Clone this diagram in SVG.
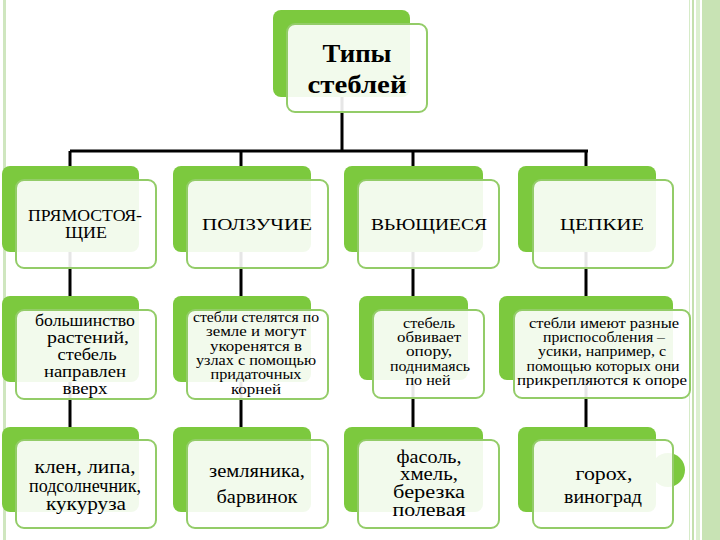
<svg xmlns="http://www.w3.org/2000/svg" width="720" height="540" viewBox="0 0 720 540">
<style>
.back{fill:#7cc93e}
.front{fill:#ffffff;fill-opacity:0.9;stroke:#93cc68;stroke-width:2}
.t{font-family:"Liberation Serif","Times New Roman",serif;fill:#000;text-anchor:middle}
.cap{font-size:17.5px}
.s1{font-size:17px}
.s2{font-size:14px}
.s3{font-size:15px}
.big{font-size:18.5px}
.title{font-size:25px;font-weight:bold}
.conn{stroke:#000;stroke-width:3;fill:none}
</style>
<rect width="720" height="540" fill="#ffffff"/>
<g id="decor">
<rect x="3" y="0" width="3" height="540" fill="#cfe6bf"/>
<rect x="689" y="0" width="1" height="540" fill="#d6ebc8"/>
<rect x="692" y="0" width="2" height="540" fill="#c4e0ae"/>
<rect x="696" y="0" width="4" height="540" fill="#dcefd0"/>
<rect x="702" y="0" width="18" height="540" fill="#c8e3b4"/>
</g>
<g id="connectors">
<path class="conn" d="M342 90V151M70 151H588M70 151V440M241 151V440M413 151V440M586 151V440"/>
</g>
<g id="root">
<rect class="back" x="273" y="10" width="137" height="87" rx="8"/>
<rect class="front" x="287" y="24" width="140" height="88" rx="8"/>
<text class="t title" x="357" y="62" textLength="69" lengthAdjust="spacingAndGlyphs">Типы</text>
<text class="t title" x="357" y="93" textLength="99" lengthAdjust="spacingAndGlyphs">стеблей</text>
</g>
<g id="n-pryam">
<rect class="back" x="2" y="166" width="137" height="86" rx="8"/>
<rect class="front" x="16" y="180" width="140" height="88" rx="8"/>
<text class="t cap" x="85" y="221" textLength="114" lengthAdjust="spacingAndGlyphs">ПРЯМОСТОЯ-</text>
<text class="t cap" x="86" y="238" textLength="42" lengthAdjust="spacingAndGlyphs">ЩИЕ</text>
</g>
<g id="n-polz">
<rect class="back" x="173" y="166" width="138" height="86" rx="8"/>
<rect class="front" x="187" y="180" width="141" height="88" rx="8"/>
<text class="t cap" x="257" y="230" textLength="110" lengthAdjust="spacingAndGlyphs">ПОЛЗУЧИЕ</text>
</g>
<g id="n-vyu">
<rect class="back" x="344" y="166" width="139" height="86" rx="8"/>
<rect class="front" x="358" y="180" width="141" height="88" rx="8"/>
<text class="t cap" x="429" y="230" textLength="116" lengthAdjust="spacingAndGlyphs">ВЬЮЩИЕСЯ</text>
</g>
<g id="n-tsep">
<rect class="back" x="518" y="166" width="138" height="86" rx="8"/>
<rect class="front" x="533" y="180" width="140" height="88" rx="8"/>
<text class="t cap" x="602" y="230" textLength="84" lengthAdjust="spacingAndGlyphs">ЦЕПКИЕ</text>
</g>
<g id="d-pryam">
<rect class="back" x="2" y="296" width="137" height="86" rx="8"/>
<rect class="front" x="16" y="310" width="140" height="89" rx="8"/>
<text class="t s1" x="85" y="326" textLength="100" lengthAdjust="spacingAndGlyphs">большинство</text>
<text class="t s1" x="88" y="343" textLength="82" lengthAdjust="spacingAndGlyphs">растений,</text>
<text class="t s1" x="87" y="360" textLength="59" lengthAdjust="spacingAndGlyphs">стебель</text>
<text class="t s1" x="85" y="377" textLength="82" lengthAdjust="spacingAndGlyphs">направлен</text>
<text class="t s1" x="85" y="394" textLength="45" lengthAdjust="spacingAndGlyphs">вверх</text>
</g>
<g id="d-polz">
<rect class="back" x="173" y="296" width="138" height="86" rx="8"/>
<rect class="front" x="187" y="310" width="141" height="89" rx="8"/>
<text class="t s2" x="256" y="322" textLength="126" lengthAdjust="spacingAndGlyphs">стебли стелятся по</text>
<text class="t s2" x="256" y="336" textLength="100" lengthAdjust="spacingAndGlyphs">земле и могут</text>
<text class="t s2" x="256" y="351" textLength="92" lengthAdjust="spacingAndGlyphs">укоренятся в</text>
<text class="t s2" x="256" y="365" textLength="120" lengthAdjust="spacingAndGlyphs">узлах с помощью</text>
<text class="t s2" x="256" y="379" textLength="91" lengthAdjust="spacingAndGlyphs">придаточных</text>
<text class="t s2" x="256" y="394" textLength="50" lengthAdjust="spacingAndGlyphs">корней</text>
</g>
<g id="d-vyu">
<rect class="back" x="359" y="296" width="109" height="84" rx="8"/>
<rect class="front" x="373" y="310" width="111" height="88" rx="8"/>
<text class="t s3" x="429" y="328" textLength="52" lengthAdjust="spacingAndGlyphs">стебель</text>
<text class="t s3" x="429" y="342" textLength="64" lengthAdjust="spacingAndGlyphs">обвивает</text>
<text class="t s3" x="429" y="356" textLength="46" lengthAdjust="spacingAndGlyphs">опору,</text>
<text class="t s3" x="430" y="371" textLength="80" lengthAdjust="spacingAndGlyphs">поднимаясь</text>
<text class="t s3" x="428" y="385" textLength="45" lengthAdjust="spacingAndGlyphs">по ней</text>
</g>
<g id="d-tsep">
<rect class="back" x="499" y="296" width="174" height="84" rx="8"/>
<rect class="front" x="514" y="310" width="176" height="88" rx="8"/>
<text class="t s3" x="604" y="328" textLength="150" lengthAdjust="spacingAndGlyphs">стебли имеют разные</text>
<text class="t s3" x="604" y="342" textLength="122" lengthAdjust="spacingAndGlyphs">приспособления –</text>
<text class="t s3" x="602" y="356" textLength="128" lengthAdjust="spacingAndGlyphs">усики, например, с</text>
<text class="t s3" x="603" y="371" textLength="153" lengthAdjust="spacingAndGlyphs">помощью которых они</text>
<text class="t s3" x="602" y="385" textLength="170" lengthAdjust="spacingAndGlyphs">прикрепляются к опоре</text>
</g>
<g id="e-pryam">
<rect class="back" x="2" y="427" width="137" height="85" rx="8"/>
<rect class="front" x="16" y="440" width="140" height="88" rx="8"/>
<text class="t big" x="85" y="473" textLength="101" lengthAdjust="spacingAndGlyphs">клен, липа,</text>
<text class="t big" x="85" y="492" textLength="112" lengthAdjust="spacingAndGlyphs">подсолнечник,</text>
<text class="t big" x="86" y="510" textLength="80" lengthAdjust="spacingAndGlyphs">кукуруза</text>
</g>
<g id="e-polz">
<rect class="back" x="173" y="427" width="138" height="85" rx="8"/>
<rect class="front" x="187" y="440" width="141" height="88" rx="8"/>
<text class="t big" x="257" y="477" textLength="96" lengthAdjust="spacingAndGlyphs">земляника,</text>
<text class="t big" x="257" y="503" textLength="81" lengthAdjust="spacingAndGlyphs">барвинок</text>
</g>
<g id="e-vyu">
<rect class="back" x="344" y="427" width="139" height="85" rx="8"/>
<rect class="front" x="358" y="440" width="141" height="88" rx="8"/>
<text class="t big" x="429" y="463" textLength="65" lengthAdjust="spacingAndGlyphs">фасоль,</text>
<text class="t big" x="429" y="480" textLength="58" lengthAdjust="spacingAndGlyphs">хмель,</text>
<text class="t big" x="429" y="498" textLength="72" lengthAdjust="spacingAndGlyphs">березка</text>
<text class="t big" x="429" y="516" textLength="73" lengthAdjust="spacingAndGlyphs">полевая</text>
</g>
<g id="e-tsep">
<rect class="back" x="518" y="427" width="138" height="85" rx="8"/>
<circle class="back" cx="668" cy="470" r="17"/>
<rect class="front" x="533" y="440" width="140" height="88" rx="8"/>
<text class="t big" x="604" y="480" textLength="57" lengthAdjust="spacingAndGlyphs">горох,</text>
<text class="t big" x="603" y="503" textLength="78" lengthAdjust="spacingAndGlyphs">виноград</text>
</g>
</svg>
